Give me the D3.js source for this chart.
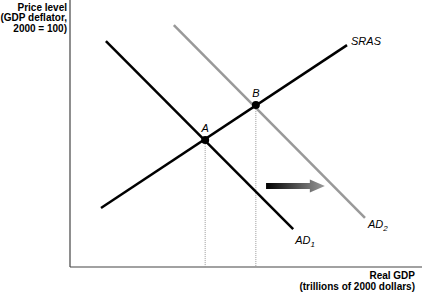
<!DOCTYPE html>
<html><head><meta charset="utf-8">
<script src="https://cdn.jsdelivr.net/npm/d3@7"></script>
<style>body{margin:0;background:#fff}svg{display:block}text{font-family:"Liberation Sans",Arial,sans-serif}</style>
</head><body>
<script>
const W = 422, H = 295;
// curve endpoints in model units (x: real GDP, y: price level)
const sras = [[0.88, 2.21], [7.87, 8.31]];
const ad1 = [[1.02, 8.46], [6.34, 1.42]];
const ad2 = [[2.95, 9.06], [8.38, 1.84]];
const equilibria = [{name: "A", x: 3.84, y: 4.76}, {name: "B", x: 5.28, y: 6.07}];
const shiftArrow = [[5.57, 3.03], [7.24, 3.03]];
const yTitle = ["Price level", "(GDP deflator,", "2000 = 100)"];
const xTitle = ["Real GDP", "(trillions of 2000 dollars)"];

const x = d3.scaleLinear().domain([0, 10]).range([70, 422]);
const y = d3.scaleLinear().domain([0, 10]).range([267, 0]);

const svg = d3.select("body").append("svg").attr("width", W).attr("height", H);
const defs = svg.append("defs");
const grad = defs.append("linearGradient").attr("id", "ag").attr("x1", "0").attr("x2", "1").attr("y1", "0").attr("y2", "0");
grad.append("stop").attr("offset", "0").attr("stop-color", "#000");
grad.append("stop").attr("offset", "1").attr("stop-color", "#999");

// axes
svg.append("line").attr("x1", x(0)).attr("x2", x(0)).attr("y1", 0).attr("y2", y(0)).attr("stroke", "#444").attr("stroke-width", 1.2);
svg.append("line").attr("x1", x(0)).attr("x2", W).attr("y1", y(0)).attr("y2", y(0)).attr("stroke", "#444").attr("stroke-width", 1.2);

// dotted guides
equilibria.forEach(p => {
  svg.append("line").attr("x1", x(p.x)).attr("x2", x(p.x)).attr("y1", y(p.y)).attr("y2", y(0))
    .attr("stroke", "#999").attr("stroke-width", 1).attr("stroke-dasharray", "1,1");
});

const line = d3.line().x(d => x(d[0])).y(d => y(d[1]));
svg.append("path").attr("d", line(ad2)).attr("stroke", "#999").attr("stroke-width", 2.5).attr("fill", "none");
svg.append("path").attr("d", line(ad1)).attr("stroke", "#000").attr("stroke-width", 2.5).attr("fill", "none");
svg.append("path").attr("d", line(sras)).attr("stroke", "#000").attr("stroke-width", 2.5).attr("fill", "none");

// arrow
const ax0 = x(shiftArrow[0][0]), ax1 = x(shiftArrow[1][0]), ay = y(shiftArrow[0][1]);
svg.append("path")
  .attr("d", `M${ax0},${ay-3}L${ax1-15},${ay-3}L${ax1-15},${ay-6.5}L${ax1},${ay}L${ax1-15},${ay+6.5}L${ax1-15},${ay+3}L${ax0},${ay+3}Z`)
  .attr("fill", "url(#ag)");

// points
equilibria.forEach(p => {
  svg.append("circle").attr("cx", x(p.x)).attr("cy", y(p.y)).attr("r", 4).attr("fill", "#000");
  svg.append("text").attr("x", x(p.x)).attr("y", y(p.y) - 8).attr("text-anchor", "middle")
    .attr("font-size", 11).attr("font-style", "italic").text(p.name);
});

// curve labels
svg.append("text").attr("x", x(sras[1][0]) + 4).attr("y", y(sras[1][1]) + 0).attr("font-size", 11).attr("font-style", "italic").text("SRAS");
const adl = (pt, sub, dx, dy) => {
  const t = svg.append("text").attr("x", x(pt[0]) + dx).attr("y", y(pt[1]) + dy).attr("font-size", 11).attr("font-style", "italic");
  t.append("tspan").text("AD");
  t.append("tspan").attr("font-size", 8).attr("dy", 3).text(sub);
};
adl(ad1[1], "1", 2, 15);
adl(ad2[1], "2", 3, 10);

// titles
const yt = svg.append("text").attr("text-anchor", "end").attr("font-size", 10).attr("font-weight", "bold");
yTitle.forEach((s, i) => yt.append("tspan").attr("x", 67).attr("y", 10.5 + i * 10.5).text(s));
const xt = svg.append("text").attr("text-anchor", "end").attr("font-size", 10).attr("font-weight", "bold");
xTitle.forEach((s, i) => xt.append("tspan").attr("x", 415).attr("y", 279 + i * 11).text(s));
</script>
</body></html>
